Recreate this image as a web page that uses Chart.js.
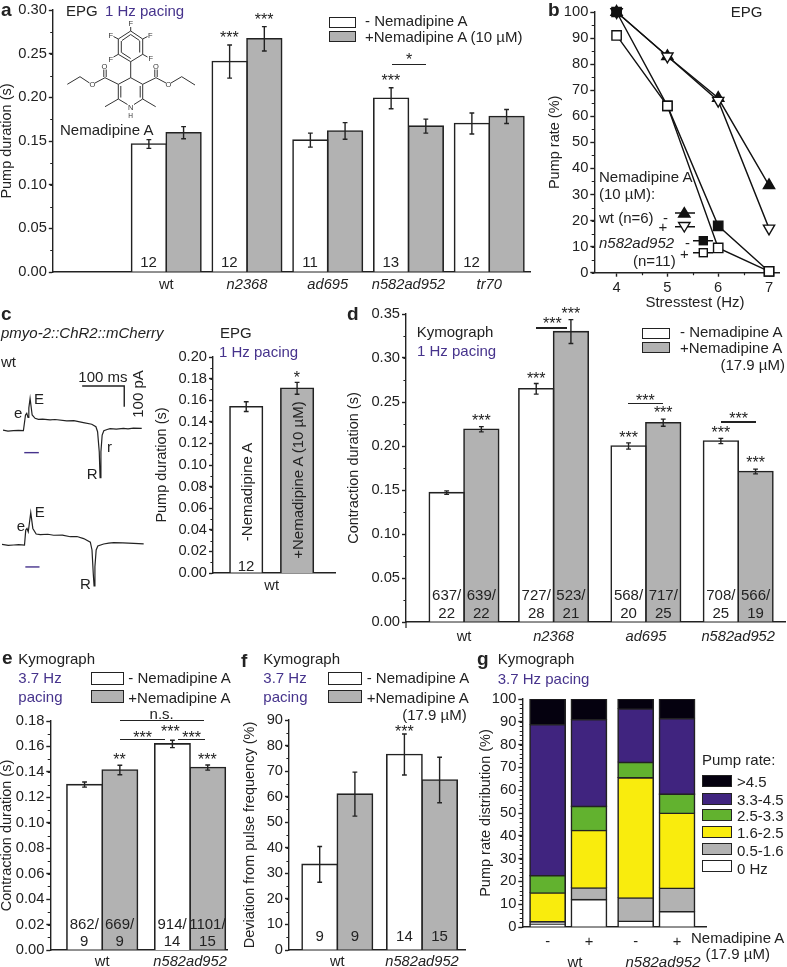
<!DOCTYPE html>
<html>
<head>
<meta charset="utf-8">
<script src="https://cdn.jsdelivr.net/npm/chart.js@4"></script>
<style>
html, body { margin: 0; background: #fff; }
#page { position: relative; width: 787px; height: 967px; overflow: hidden; font: 15px "Liberation Sans", Arial, sans-serif; color: #222; }
canvas { position: absolute; }
.t { position: absolute; white-space: nowrap; line-height: 1; }
.rule { position: absolute; height: 1.4px; background: #222; }
.swatch { position: absolute; box-sizing: border-box; border: 1.6px solid #222; }
svg { position: absolute; left: 0; top: 0; }
</style>
</head>
<body>
<div id="page">
<svg width="787" height="967" style="z-index:5">
  <!-- Nemadipine A -->
  <g stroke="#333" stroke-width="1" fill="none">
    <polygon points="130.7,31 142.7,39 142.7,54.3 130.7,61.7 118.3,54.3 118.3,39"/>
    <path d="M130.7 34.5L139.5 40.5M139.7 41V52.5M130.7 58.5L121.5 52.5M121.3 52.5V41M122 40.5L130.7 34.5"/>
    <path d="M130.7 31V27M142.7 39L147.5 36.5M118.3 39L113.5 36.5M118.3 54.3L113.5 57M142.7 54.3L147.5 57"/>
    <path d="M130.7 61.7V77.7L142.7 84.3V99L134 104.5M127.5 104.5L118.3 99V84.3L130.7 77.7"/>
    <path d="M120.8 86V97.5M140.2 86V97.5"/>
    <path d="M118.3 99L105 106.7M142.7 99L155.7 106.7"/>
    <path d="M118.3 84.3L105 77.7L95 83M89.5 83L80 76.7L67.3 84.3M103.8 77V69.5M106.2 77V69.5"/>
    <path d="M142.7 84.3L156 77.7L166 83M171 83L181.7 76.7L195 85M154.8 77V69.5M157.2 77V69.5"/>
  </g>
  <g font-family="Liberation Sans" font-size="7.5" fill="#333" text-anchor="middle">
    <text x="130.7" y="26">F</text><text x="150.3" y="38">F</text><text x="110.7" y="38">F</text>
    <text x="110.7" y="61.5">F</text><text x="150.7" y="61">F</text>
    <text x="104.5" y="68.5">O</text><text x="156" y="68.5">O</text>
    <text x="92.3" y="87">O</text><text x="168.3" y="87">O</text>
    <text x="130.7" y="109.5">N</text><text x="130.7" y="118" font-size="6.5">H</text>
  </g>
  <!-- panel b key -->
  <g stroke="#111" stroke-width="1.4">
    <path d="M675 213H695M675 226.7H695M693 240.7H713M693 252.7H713" fill="none"/>
    <polygon points="684.3,207.5 690,217 678.6,217" fill="#111"/>
    <polygon points="684.3,232 690,222.5 678.6,222.5" fill="#fff"/>
    <rect x="699.3" y="236.7" width="8" height="8" fill="#111"/>
    <rect x="699.3" y="248.7" width="8" height="8" fill="#fff"/>
  </g>
</svg>
</div>
<script>
// panel a
const genesA = ['wt', 'n2368', 'ad695', 'n582ad952', 'tr70'];
const minusA = [0.1466, 0.241, 0.151, 0.199, 0.170];
const plusA = [0.1595, 0.267, 0.1615, 0.167, 0.178];
const minusErrA = [0.005, 0.019, 0.008, 0.012, 0.012];
const plusErrA = [0.007, 0.014, 0.0095, 0.008, 0.008];
const minusStarsA = ['', '***', '', '***', ''];
const plusStarsA = ['', '***', '', '', ''];
const minusNA = ['12', '12', '11', '13', '12'];

// panel b
const stressHz = [4, 5, 6, 7];
const wtMinusB = [100, 83, 67, 33.5];
const wtPlusB = [100, 83, 66, 17];
const n582MinusB = [100, 64, 18, 0.5];
const n582PlusB = [91, 64, 9.5, 0.5];

// panel c, traces (ms, pA)
const trace1T = [0, 12, 25, 37, 49, 54, 57, 60, 62, 65, 70, 77, 85, 95, 113, 125, 153, 170, 193, 213, 223, 227, 231, 233, 235, 238, 242, 250, 257, 272, 289, 300, 313, 333];
const trace1I = [3, -2, 0, 2, 0, 76, 84, 64, 110, 156, 76, 60, 55, 56, 52, 54, 47, 49, 39, 31, 19, -5, -102, -227, -102, -21, 0, 6, 10, 8, 11, 9, 12, 11];
const trace2T = [0, 15, 28, 40, 54, 57, 60, 63, 66, 69, 74, 82, 92, 110, 124, 145, 164, 180, 196, 212, 216, 219, 221, 223, 226, 230, 244, 256, 268, 290, 316, 340];
const trace2I = [3, -2, 0, 2, 0, 72, 80, 64, 110, 156, 80, 53, 50, 52, 47, 48, 40, 41, 31, 14, -24, -137, -198, -105, -24, -5, 5, 9, 11, 10, 8, 5];
const scaleBarT = [190, 291, 291];
const scaleBarI = [216, 216, 116];
const stimBar1T = [51, 86];
const stimBar2T = [56, 90];
const stimBarI = [-106, -106];

// panel c, bars
const valuesC = [0.154, 0.171];
const errC = [0.0045, 0.0055];
const starsC = ['', '*'];

// panel d
const genesD = ['wt', 'n2368', 'ad695', 'n582ad952'];
const minusD = [0.147, 0.265, 0.2, 0.2057];
const plusD = [0.219, 0.33, 0.2265, 0.171];
const minusErrD = [0.002, 0.006, 0.0035, 0.003];
const plusErrD = [0.003, 0.0136, 0.004, 0.0027];
const minusStarsD = ['', '***', '***', '***'];
const plusStarsD = ['***', '***', '***', '***'];
const minusND = [['637/', '22'], ['727/', '28'], ['568/', '20'], ['708/', '25']];
const plusND = [['639/', '22'], ['523/', '21'], ['717/', '25'], ['566/', '19']];

// panel e
const genesE = ['wt', 'n582ad952'];
const minusE = [0.130, 0.162];
const plusE = [0.1415, 0.1434];
const minusErrE = [0.002, 0.0029];
const plusErrE = [0.0037, 0.002];
const plusStarsE = ['**', '***'];
const minusNE = [['862/', '9'], ['914/', '14']];
const plusNE = [['669/', '9'], ['1101/', '15']];

// panel f
const minusF = [33.5, 76.5];
const plusF = [61, 66.5];
const minusErrF = [7, 8];
const plusErrF = [8.6, 8.9];
const minusNF = ['9', '14'];
const plusNF = ['9', '15'];

// panel g
const rateBins = ['0 Hz', '0.5-1.6', '1.6-2.5', '2.5-3.3', '3.3-4.5', '>4.5'];
const rateColors = ['#ffffff', '#b2b2b2', '#f9ec0d', '#62b22f', '#40247f', '#05010f'];
const drugSigns = ['-', '+', '-', '+'];
const bin0 = [1, 12, 2.5, 6.7];
const bin05 = [1.3, 5.1, 10.2, 10.3];
const bin16 = [12.6, 25.2, 52.7, 32.9];
const bin25 = [7.6, 10.6, 6.8, 8.4];
const bin33 = [66.2, 38, 23.4, 33.1];
const bin45 = [11.3, 9.1, 4.4, 8.6];

const ink = '#222';
const gray = '#b2b2b2';
const purple = '#46338c';
const italicNames = ['n2368', 'ad695', 'n582ad952', 'tr70'];
const page = document.getElementById('page');
Chart.defaults.font.family = '"Liberation Sans", Arial, sans-serif';
Chart.defaults.font.size = 14.7;
Chart.defaults.color = ink;
Chart.defaults.animation = false;

function text(str, x, y, o = {}) {
    const el = document.createElement('span');
    el.className = 't';
    el.textContent = str;
    el.style.left = x + 'px';
    el.style.top = y + 'px';
    if (o.color) el.style.color = o.color;
    if (o.italic) el.style.fontStyle = 'italic';
    if (o.bold) { el.style.fontWeight = 'bold'; el.style.fontSize = '19px'; }
    if (o.size) el.style.fontSize = o.size + 'px';
    const dx = { l: '0', c: '-50%', r: '-100%' }[o.anchor || 'l'];
    el.style.transform = `translate(${dx}, -50%)` + (o.rotate ? ' rotate(-90deg)' : '');
    el.style.zIndex = 6;
    page.appendChild(el);
}

// the asterisk sits high in its line box, so y here is the glyph centre
function star(str, x, y) {
    text(str, x, y + 3.5, { anchor: 'c', size: 16 });
}

function rule(x0, y, x1) {
    const el = document.createElement('div');
    el.className = 'rule';
    el.style.cssText = `left:${x0}px;top:${y}px;width:${x1 - x0}px;z-index:6`;
    page.appendChild(el);
}

function swatch(x0, y0, x1, y1, color) {
    const el = document.createElement('div');
    el.className = 'swatch';
    el.style.cssText = `left:${x0}px;top:${y0}px;width:${x1 - x0}px;height:${y1 - y0}px;background:${color};z-index:6`;
    page.appendChild(el);
}

function addCanvas(r) {
    const c = document.createElement('canvas');
    c.width = r.w;
    c.height = r.h;
    c.style.left = r.x + 'px';
    c.style.top = r.y + 'px';
    page.appendChild(c);
    return c;
}

// minor ticks, error bars and the axis tail are not in Chart.js
function extras(cfg) {
    return {
        id: 'extras',
        afterDatasetsDraw(chart) {
            const ctx = chart.ctx;
            ctx.save();
            ctx.strokeStyle = ink;
            ctx.lineWidth = 1.4;
            const y = chart.scales.y;
            (cfg.errors || []).forEach((errs, d) => {
                const meta = chart.getDatasetMeta(d);
                errs.forEach((e, i) => {
                    const bx = meta.data[i].x;
                    const v = chart.data.datasets[d].data[i].y;
                    const top = y.getPixelForValue(v + e);
                    const bot = y.getPixelForValue(v - e);
                    ctx.beginPath();
                    ctx.moveTo(bx, top); ctx.lineTo(bx, bot);
                    ctx.moveTo(bx - 2.4, top); ctx.lineTo(bx + 2.4, top);
                    ctx.moveTo(bx - 2.4, bot); ctx.lineTo(bx + 2.4, bot);
                    ctx.stroke();
                });
            });
            ctx.restore();
        },
        afterDraw(chart) {
            const ctx = chart.ctx;
            const x = chart.scales.x, y = chart.scales.y;
            ctx.save();
            ctx.strokeStyle = ink;
            ctx.lineWidth = 1.2;
            ctx.beginPath();
            if (cfg.minorY) {
                for (let k = 0; y.min + k * cfg.minorY <= y.max + 1e-9; k++) {
                    const py = Math.round(y.getPixelForValue(y.min + k * cfg.minorY)) + 0.5;
                    ctx.moveTo(x.left, py); ctx.lineTo(x.left - 2.6, py);
                }
            }
            if (cfg.minorX) {
                for (const v of cfg.minorX) {
                    const px = Math.round(x.getPixelForValue(v)) + 0.5;
                    ctx.moveTo(px, y.bottom); ctx.lineTo(px, y.bottom + 2.6);
                }
            }
            if (cfg.axisTail) {
                ctx.moveTo(x.left, y.bottom); ctx.lineTo(x.left, y.bottom + cfg.axisTail);
            }
            ctx.stroke();
            ctx.restore();
        }
    };
}

function yAxis(cfg, rect, plot) {
    return {
        min: 0,
        max: cfg.yMax,
        stacked: !!cfg.stacked,
        title: { display: true, text: cfg.yTitle, padding: 0, font: { size: 14.5 } },
        border: { display: true, color: ink, width: 1.4 },
        grid: { drawOnChartArea: false, drawTicks: true, tickLength: 4, tickColor: ink, tickWidth: 1.4 },
        ticks: { stepSize: cfg.yStep, padding: 2, callback: v => v.toFixed(cfg.yDigits || 0) },
        afterFit: s => { s.width = plot.l - rect.x; }
    };
}

function layoutPadding(rect, plot) {
    return { top: plot.t - rect.y, right: rect.x + rect.w - plot.r, left: 0, bottom: 0 };
}

// bars sit on a linear x scale so that the gaps can follow the figure
function barPanel(cfg) {
    const { plot, titleX, slots, unit, origin } = cfg;
    const rect = { x: titleX - 9, y: plot.t - 14, w: plot.r + 8 - (titleX - 9), h: plot.b + cfg.below - (plot.t - 14) };
    const tickSlots = cfg.tickSlots || slots;
    const chart = new Chart(addCanvas(rect), {
        type: 'bar',
        data: {
            datasets: cfg.series.map(s => ({
                data: s.values.map((v, i) => ({ x: slots[i], y: v })),
                backgroundColor: s.color,
                borderColor: ink,
                borderWidth: 1.6,
                inflateAmount: 0.8,
                barThickness: cfg.thickness
            }))
        },
        options: {
            responsive: false,
            layout: { padding: layoutPadding(rect, plot) },
            plugins: { legend: { display: false }, tooltip: { enabled: false } },
            scales: {
                x: {
                    type: 'linear',
                    offset: false,
                    stacked: !!cfg.stacked,
                    min: (plot.l - origin) / unit,
                    max: (plot.r - origin) / unit,
                    border: { display: true, color: ink, width: 1.4 },
                    grid: { display: false, drawTicks: false, offset: false },
                    afterBuildTicks: s => { s.ticks = tickSlots.map(value => ({ value })); },
                    afterFit: s => { s.height = rect.y + rect.h - plot.b; },
                    ticks: {
                        autoSkip: false,
                        maxRotation: 0,
                        padding: cfg.xPad,
                        callback: (v, i) => cfg.categories[i],
                        font: c => ({ size: 14.7, style: italicNames.includes(cfg.categories[c.index]) ? 'italic' : 'normal' })
                    }
                },
                y: yAxis(cfg, rect, plot)
            }
        },
        plugins: [extras({ errors: cfg.errors, minorY: cfg.minorY, axisTail: cfg.axisTail })]
    });
    chart.barX = (d, i) => rect.x + chart.getDatasetMeta(d).data[i].x;
    chart.barTop = (d, i, e = 0) => rect.y + chart.scales.y.getPixelForValue(chart.data.datasets[d].data[i].y + e);
    return chart;
}

function starsOver(chart, d, stars, errs, gap = 9) {
    stars.forEach((s, i) => {
        if (s) star(s, chart.barX(d, i), chart.barTop(d, i, errs[i]) - gap);
    });
}

function barNotes(chart, d, notes, rows) {
    notes.forEach((n, i) => {
        [].concat(n).forEach((line, k) => text(line, chart.barX(d, i), rows[k], { anchor: 'c' }));
    });
}

function traceChart(rect, zeroY, t, i, stimT) {
    const msPerPx = 2.4, pAPerPx = 4.83;
    const datasets = [
        { data: t.map((v, k) => ({ x: v, y: i[k] })), borderColor: '#222', borderWidth: 1.2 },
        { data: stimT.map((v, k) => ({ x: v, y: stimBarI[k] })), borderColor: purple, borderWidth: 1.4 }
    ];
    if (rect.scaleBar) {
        datasets.push({ data: scaleBarT.map((v, k) => ({ x: v, y: scaleBarI[k] })), borderColor: ink, borderWidth: 1.4 });
    }
    new Chart(addCanvas(rect), {
        type: 'line',
        data: { datasets },
        options: {
            responsive: false,
            parsing: false,
            elements: { point: { radius: 0 }, line: { tension: 0 } },
            plugins: { legend: { display: false }, tooltip: { enabled: false } },
            scales: {
                x: { type: 'linear', display: false, min: 0, max: rect.w * msPerPx },
                y: { type: 'linear', display: false, min: (zeroY - (rect.y + rect.h)) * pAPerPx, max: (zeroY - rect.y) * pAPerPx }
            }
        }
    });
}

// ---- a
const chartA = barPanel({
    plot: { l: 52.5, t: 10, r: 530, b: 272.7 }, titleX: 6.7, below: 24,
    categories: genesA, slots: genesA.map((g, i) => i), origin: 166, unit: 80.8, thickness: 34.7,
    series: [{ values: minusA, color: '#fff' }, { values: plusA, color: gray }],
    errors: [minusErrA, plusErrA],
    yMax: 0.30, yStep: 0.05, yDigits: 2, minorY: 0.025, yTitle: 'Pump duration (s)', xPad: 4
});
starsOver(chartA, 0, minusStarsA, minusErrA, 10);
starsOver(chartA, 1, plusStarsA, plusErrA, 10);
barNotes(chartA, 0, minusNA, [261]);
rule(391.7, 63.5, 426);
star('*', 409, 56.5);
text('a', 1, 9, { bold: true });
text('EPG', 66, 10);
text('1 Hz pacing', 105, 10, { color: purple });
text('Nemadipine A', 60, 128.5);
swatch(329, 16.5, 356, 27.5, '#fff');
swatch(329, 30.5, 356, 41.5, gray);
text('- Nemadipine A', 365, 19.5);
text('+Nemadipine A (10 µM)', 365, 35.5);

// ---- b
const plotB = { l: 594.3, t: 12, r: 785, b: 272.7 };
const rectB = { x: 546, y: 0, w: 241, h: 300 };
new Chart(addCanvas(rectB), {
    type: 'line',
    data: {
        datasets: [
            { data: n582PlusB, pointStyle: 'rect', pointRadius: 6.6, pointBackgroundColor: '#fff' },
            { data: n582MinusB, pointStyle: 'rect', pointRadius: 6.6, pointBackgroundColor: '#111' },
            { data: wtPlusB, pointStyle: 'triangle', pointRotation: 180, pointRadius: 6.5, pointBackgroundColor: '#fff' },
            { data: wtMinusB, pointStyle: 'triangle', pointRadius: 6.5, pointBackgroundColor: '#111' }
        ].map(s => ({
            ...s,
            data: s.data.map((v, i) => ({ x: stressHz[i], y: v })),
            borderColor: '#111',
            pointBorderColor: '#111',
            pointBorderWidth: 1.4,
            borderWidth: 1.4,
            tension: 0,
            clip: false
        }))
    },
    options: {
        responsive: false,
        layout: { padding: layoutPadding(rectB, plotB) },
        plugins: { legend: { display: false }, tooltip: { enabled: false } },
        scales: {
            x: {
                type: 'linear',
                min: 4 - (617.3 - plotB.l) / 52.45,
                max: 7 + (plotB.r - 774.7) / 52.45,
                border: { display: true, color: ink, width: 1.4 },
                grid: { drawOnChartArea: false, tickLength: 4, tickColor: ink, tickWidth: 1.4 },
                afterBuildTicks: s => { s.ticks = stressHz.map(value => ({ value })); },
                afterFit: s => { s.height = rectB.y + rectB.h - plotB.b; },
                ticks: { padding: 2, maxRotation: 0, callback: v => v }
            },
            y: yAxis({ yMax: 100, yStep: 10, yTitle: 'Pump rate (%)' }, rectB, plotB)
        }
    },
    plugins: [extras({ minorY: 5, minorX: [4.5, 5.5, 6.5] })]
});
text('b', 548, 9, { bold: true });
text('EPG', 746.7, 10.7, { anchor: 'c' });
text('Stresstest (Hz)', 695, 301, { anchor: 'c' });
text('Nemadipine A', 599, 176);
text('(10 µM):', 599, 193);
text('wt (n=6)', 599, 217);
text('-', 663, 217);
text('+', 663, 226, { anchor: 'c' });
text('n582ad952', 599, 242, { italic: true });
text('-', 685, 242);
text('+', 684.3, 253, { anchor: 'c' });
text('(n=11)', 633, 260);

// ---- c
const traceRect1 = { x: 3, y: 384, w: 144, h: 100, scaleBar: true };
traceChart(traceRect1, 430.7, trace1T, trace1I, stimBar1T);
traceChart({ x: 1.7, y: 500, w: 146, h: 90 }, 545, trace2T, trace2I, stimBar2T);
const chartC = barPanel({
    plot: { l: 212.7, t: 357.3, r: 335, b: 574 }, titleX: 161.7, below: 24,
    categories: ['wt'], slots: [0, 1], tickSlots: [0.5], origin: 246, unit: 51, thickness: 32.5,
    series: [{ values: valuesC, color: ['#fff', gray] }],
    errors: [errC],
    yMax: 0.20, yStep: 0.02, yDigits: 2, minorY: 0.01, yTitle: 'Pump duration (s)', xPad: 4
});
starsOver(chartC, 0, starsC, errC, 8);
text('c', 1, 313, { bold: true });
text('pmyo-2::ChR2::mCherry', 1, 331.7, { italic: true });
text('wt', 1, 360.7);
text('100 ms', 78.3, 376);
text('100 pA', 136.7, 394, { anchor: 'c', rotate: true });
text('E', 34, 398);
text('e', 14, 412);
text('r', 107, 445.7);
text('R', 86.7, 473);
text('E', 34.7, 510.7);
text('e', 16.7, 525);
text('R', 80, 583);
text('EPG', 220, 331.7);
text('1 Hz pacing', 219, 350.7, { color: purple });
text('-Nemadipine A', 246, 492, { anchor: 'c', rotate: true });
text('+Nemadipine A (10 µM)', 297, 480, { anchor: 'c', rotate: true });
text('12', 246, 565.3, { anchor: 'c' });

// ---- d
const chartD = barPanel({
    plot: { l: 406, t: 314, r: 785, b: 622 }, titleX: 354, below: 26,
    categories: genesD, slots: [0, 0.98, 1.99, 3], origin: 464, unit: 91.4, thickness: 34.7,
    series: [{ values: minusD, color: '#fff' }, { values: plusD, color: gray }],
    errors: [minusErrD, plusErrD],
    yMax: 0.35, yStep: 0.05, yDigits: 2, minorY: 0.025, yTitle: 'Contraction duration (s)', xPad: 6, axisTail: 6
});
starsOver(chartD, 0, minusStarsD, minusErrD, 8.5);
starsOver(chartD, 1, plusStarsD, plusErrD, 9.5);
barNotes(chartD, 0, minusND, [594, 612]);
barNotes(chartD, 1, plusND, [594, 612]);
rule(536, 327.2, 567.3);
star('***', 552.3, 320);
rule(627.7, 402.8, 662.7);
star('***', 645.3, 397.7);
rule(721, 421.2, 755.7);
star('***', 738.7, 415.7);
text('d', 347, 313, { bold: true });
text('Kymograph', 416.7, 331);
text('1 Hz pacing', 417, 350, { color: purple });
swatch(642, 327.5, 670, 339, '#fff');
swatch(642, 341.5, 670, 353, gray);
text('- Nemadipine A', 680, 331);
text('+Nemadipine A', 680, 346.7);
text('(17.9 µM)', 785, 364, { anchor: 'r' });

// ---- e
const chartE = barPanel({
    plot: { l: 50, t: 720.7, r: 227, b: 950 }, titleX: 6.7, below: 17,
    categories: genesE, slots: [0, 1.0], origin: 102, unit: 88, thickness: 35.3,
    series: [{ values: minusE, color: '#fff' }, { values: plusE, color: gray }],
    errors: [minusErrE, plusErrE],
    yMax: 0.18, yStep: 0.02, yDigits: 2, minorY: 0.01, yTitle: 'Contraction duration (s)', xPad: 3
});
starsOver(chartE, 1, plusStarsE, plusErrE, 8);
barNotes(chartE, 0, minusNE, [923.3, 940]);
barNotes(chartE, 1, plusNE, [923.3, 940]);
text('n.s.', 161.7, 713.3, { anchor: 'c' });
rule(120, 719.5, 204);
rule(120, 738.5, 164.7);
rule(177.7, 738.5, 205);
star('***', 142.7, 734);
star('***', 170.3, 728);
star('***', 191.7, 734);
text('e', 2, 657, { bold: true });
text('Kymograph', 18.3, 658.3);
text('3.7 Hz', 18.3, 677.3, { color: purple });
text('pacing', 18.3, 695.7, { color: purple });
swatch(91, 672, 124.3, 684.5, '#fff');
swatch(91, 690, 124.3, 702.5, gray);
text('- Nemadipine A', 128.3, 677.3);
text('+Nemadipine A', 128.3, 697.3);

// ---- f
const chartF = barPanel({
    plot: { l: 289, t: 720, r: 465, b: 950 }, titleX: 250, below: 17,
    categories: genesE, slots: [0, 1.0], origin: 337.3, unit: 84.7, thickness: 35.2,
    series: [{ values: minusF, color: '#fff' }, { values: plusF, color: gray }],
    errors: [minusErrF, plusErrF],
    yMax: 90, yStep: 10, minorY: 5, yTitle: 'Deviation from pulse frequency (%)', xPad: 3
});
star('***', chartF.barX(0, 1), chartF.barTop(0, 1, minusErrF[1]) - 6);
barNotes(chartF, 0, minusNF, [935]);
barNotes(chartF, 1, plusNF, [935]);
text('f', 241, 660, { bold: true });
text('Kymograph', 263.3, 658.3);
text('3.7 Hz', 263.3, 677.3, { color: purple });
text('pacing', 263.3, 695.7, { color: purple });
swatch(328.3, 672, 361.7, 684.5, '#fff');
swatch(328.3, 690, 361.7, 702.5, gray);
text('- Nemadipine A', 366.7, 677.3);
text('+Nemadipine A', 366.7, 697.3);
text('(17.9 µM)', 466.7, 714, { anchor: 'r' });

// ---- g
const binValues = [bin0, bin05, bin16, bin25, bin33, bin45];
barPanel({
    plot: { l: 522.3, t: 699.3, r: 706.7, b: 927.3 }, titleX: 486, below: 24,
    categories: drugSigns, slots: [0, 1, 2.13, 3.13], origin: 547.7, unit: 41.5, thickness: 35.2, stacked: true,
    series: binValues.map((values, i) => ({ values, color: rateColors[i] })),
    yMax: 100, yStep: 10, minorY: 2, yTitle: 'Pump rate distribution (%)', xPad: 6
});
text('g', 477, 658, { bold: true });
text('Kymograph', 497.7, 658.3);
text('3.7 Hz pacing', 497.7, 677.7, { color: purple });
text('wt', 575, 960.7, { anchor: 'c' });
text('n582ad952', 663, 960.7, { anchor: 'c', italic: true });
text('Nemadipine A', 737.7, 936.7, { anchor: 'c' });
text('(17.9 µM)', 737.7, 953, { anchor: 'c' });
text('Pump rate:', 702, 759);
const keyTops = [775, 792.7, 809, 825.5, 843, 860];
const keyMids = [781, 799, 815.3, 832.3, 850, 867.7];
rateBins.slice().reverse().forEach((name, i) => {
    swatch(701.7, keyTops[i], 732.3, keyTops[i] + 12, rateColors[rateColors.length - 1 - i]);
    text(name, 737, keyMids[i]);
});
</script>
</body>
</html>
